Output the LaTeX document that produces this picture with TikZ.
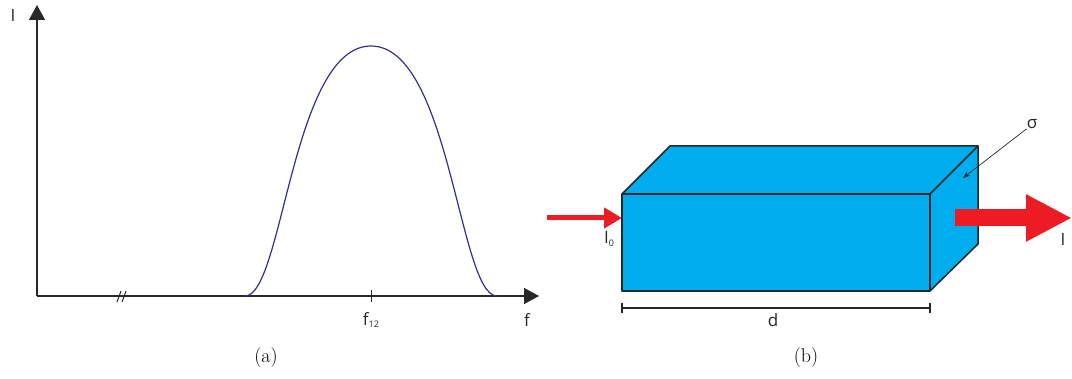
\documentclass[tikz,border=0pt]{standalone}
\usepackage{fontspec}
\usepackage{tikz}
\usetikzlibrary{arrows.meta}
\newfontfamily\labelfont{Open Sans}

\begin{document}
\begin{tikzpicture}[x=1pt, y=-1pt, line join=round]
        \definecolor{axiscolor}{RGB}{40,40,40}
        \definecolor{curvecolor}{RGB}{46,49,146}
        \definecolor{slabcolor}{RGB}{0,174,239}
        \definecolor{beamcolor}{RGB}{237,28,36}
        \tikzset{
            axis/.style={axiscolor, line width=1.3pt},
            lbl/.style={font=\labelfont\fontsize{17}{17}\selectfont, text=axiscolor, inner sep=0pt},
            caption/.style={font=\fontsize{20}{20}\selectfont, inner sep=0pt},
            edge/.style={black!85, line width=1.5pt}
        }
        \newcommand{\lowidx}[1]{\raisebox{-0.3ex}{\fontsize{9}{9}\selectfont #1}}
        \useasboundingbox (0,0) rectangle (1072,379);

        % (a) spectrum
        \coordinate (origin) at (37,296);
        \coordinate (ytop) at (37,5);
        \coordinate (xend) at (539,296);
        \coordinate (peak) at (371,46);
        \draw[axis, -{Triangle[length=15pt, width=16pt]}] (origin) -- (ytop);
        \draw[axis, -{Triangle[length=15pt, width=16pt]}] (origin) -- (xend);
        \draw[axis, line width=1pt] (117,302) -- (121,291);
        \draw[axis, line width=1pt] (122,302) -- (126,291);
        \draw[axis, line width=1pt] (371,290) -- (371,302);
        \draw[curvecolor, line width=1.2pt] (245,296) .. controls (283,296) and (292,46) .. (peak)
            .. controls (450,46) and (459,296) .. (497,296);

        \node[lbl] (ilabel) at (13,15) {I};
        \node[lbl] (flabel) at (527,320) {f};
        \node[lbl] (fpeak) at (371,320) {f\lowidx{12}};
        \node[caption] (capa) at (266,358) {(a)};

        % (b) slab
        \coordinate (fbl) at (622,291);
        \coordinate (fbr) at (930,291);
        \coordinate (ftr) at (930,194);
        \coordinate (ftl) at (622,194);
        \coordinate (btl) at (670,146);
        \coordinate (btr) at (978,146);
        \coordinate (bbr) at (978,244);
        \fill[slabcolor] (fbl) -- (ftl) -- (btl) -- (btr) -- (bbr) -- (fbr) -- cycle;
        \draw[edge] (fbl) rectangle (ftr);
        \draw[edge] (ftl) -- (btl) -- (btr) -- (ftr);
        \draw[edge] (btr) -- (bbr) -- (fbr);

        \coordinate (inbeam) at (547,218);
        \draw[beamcolor, line width=5pt, -{Triangle[length=18pt, width=20pt]}] (inbeam) -- (ftl |- inbeam);
        \coordinate (outbeam) at (955,218);
        \coordinate (outtip) at (1072,218);
        \draw[beamcolor, line width=17pt, -{Triangle[length=46pt, width=44pt]}] (outbeam) -- (outtip);

        \node[lbl] (izero) at (609,239) {I\lowidx{0}};
        \node[lbl] (iout) at (1063,239) {I};
        \node[lbl] (sigma) at (1032,124) {σ};
        \draw[black!85, line width=0.7pt, -{Stealth[length=7pt, width=5pt]}] (sigma.south west) -- (963,178);

        \coordinate (dleft) at (622,308);
        \coordinate (dright) at (930,308);
        \draw[axis, line width=1.2pt] (dleft) -- (dright);
        \draw[axis, line width=1.4pt] ([yshift=-5pt]dleft) -- ([yshift=5pt]dleft);
        \draw[axis, line width=1.4pt] ([yshift=-5pt]dright) -- ([yshift=5pt]dright);
        \node[lbl] (dlabel) at (773,320) {d};
        \node[caption] (capb) at (806,358) {(b)};
    \end{tikzpicture}
\end{document}
